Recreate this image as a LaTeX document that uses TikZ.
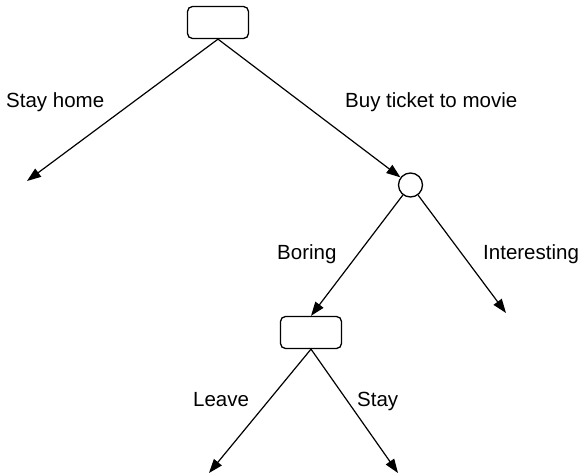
\documentclass[tikz,border=0pt]{standalone}
\usepackage{fontspec}
\setmainfont{Liberation Sans}
\usetikzlibrary{arrows.meta}
\begin{document}
\begin{tikzpicture}[x=1pt,y=-1pt,
  decision/.style={draw, rounded corners=5pt, minimum width=61pt, minimum height=32pt, line width=1.3pt, inner sep=0pt},
  chance/.style={draw, circle, minimum size=24pt, line width=1.3pt, inner sep=0pt},
  branch/.style={line width=1.2pt, -{Triangle[length=14pt,width=10pt]}},
  lbl/.style={anchor=base west, inner sep=0pt, font=\fontsize{20.5}{24}\selectfont}]
\useasboundingbox (0,0) rectangle (581,476);

% decision and chance nodes
\node[decision] (root) at (218,22.5) {};
\node[chance] (movie) at (410.5,185) {};
\node[decision] (bored) at (311,332.5) {};

% free ends of the branches
\coordinate (home) at (27,181);
\coordinate (interesting) at (506,313);
\coordinate (leave) at (209,473);
\coordinate (stay) at (398,473);

% branches
\draw[branch] (root.south) -- (home);
\draw[branch] (root.south) -- (movie);
\draw[branch] (movie) -- (bored.north);
\draw[branch] (movie) -- (interesting);
\draw[branch] (bored.south) -- (leave);
\draw[branch] (bored.south) -- (stay);

% branch labels
\node[lbl] (t1) at (6,108) {Stay home};
\node[lbl] (t2) at (345,108) {Buy ticket to movie};
\node[lbl] (t3) at (277,259) {Boring};
\node[lbl] (t4) at (483,259) {Interesting};
\node[lbl] (t5) at (193,406) {Leave};
\node[lbl] (t6) at (357,406) {Stay};
\end{tikzpicture}
\end{document}
